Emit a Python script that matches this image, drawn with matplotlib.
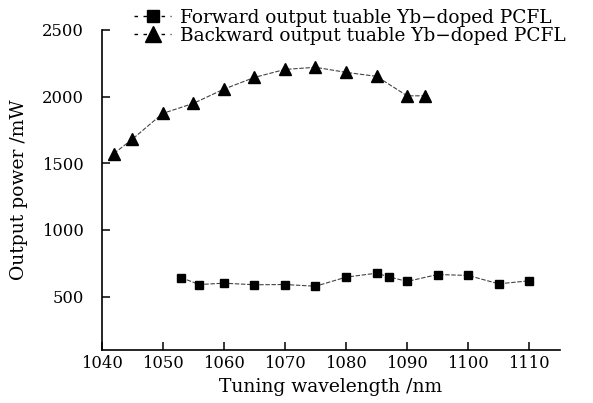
import matplotlib
matplotlib.use("Agg")
import matplotlib.pyplot as plt
from matplotlib.lines import Line2D

back_x = [1042, 1045, 1050, 1055, 1060, 1065, 1070, 1075, 1080, 1085, 1090, 1093]
back_y = [1573, 1680, 1874, 1949, 2056, 2144, 2204, 2220, 2182, 2152, 2006, 2006]
fwd_x = [1053, 1056, 1060, 1065, 1070, 1075, 1080, 1085, 1087, 1090, 1095, 1100, 1105, 1110]
fwd_y = [641, 590, 600, 588, 590, 577, 645, 675, 648, 613, 665, 658, 595, 618]
xticks = [1040, 1050, 1060, 1070, 1080, 1090, 1100, 1110]
yticks = [500, 1000, 1500, 2000, 2500]
labels = ["Forward output tuable Yb\u2212doped PCFL", "Backward output tuable Yb\u2212doped PCFL"]

plt.rcParams['font.family'] = ['DejaVu Serif']
fig = plt.figure(figsize=(5.93, 4.03), dpi=100)
ax = fig.add_axes([0.1715, 0.132, 0.7725, 0.7936])

ls = (0, (4, 1.5))
ax.plot(fwd_x, fwd_y, linestyle=ls, color='#444444', lw=0.8, marker='s', ms=6,
        mfc='black', mec='black')
ax.plot(back_x, back_y, linestyle=ls, color='#444444', lw=0.8, marker='^', ms=8,
        mfc='black', mec='black')

ax.set_xlim(1040, 1115)
ax.set_ylim(100, 2500)
ax.set_xticks(xticks)
ax.set_yticks(yticks)
for s in ['top', 'right']:
    ax.spines[s].set_visible(False)
for s in ['left', 'bottom']:
    ax.spines[s].set_linewidth(1.2)
ax.tick_params(direction='in', length=6, width=1.1, labelsize=11.8)
ax.tick_params(axis='y', pad=13)
ax.tick_params(axis='x', pad=4)
ax.set_xlabel("Tuning wavelength /nm", fontsize=13.5, labelpad=4)
ax.set_ylabel("Output power /mW", fontsize=13.5, labelpad=10)

h1 = Line2D([], [], linestyle=(0, (2.5, 4)), color='black', lw=1, marker='s', ms=8.5, mfc='black', mec='black')
h2 = Line2D([], [], linestyle=(0, (2.5, 4)), color='black', lw=1, marker='^', ms=11, mfc='black', mec='black')
fig.legend([h1, h2], labels, loc='upper left', bbox_to_anchor=(0.205, 1.01),
           frameon=False, fontsize=13.3, handlelength=2.0, handletextpad=0.45,
           labelspacing=0.0, borderpad=0.2)

fig.savefig("out.png", dpi=100)
